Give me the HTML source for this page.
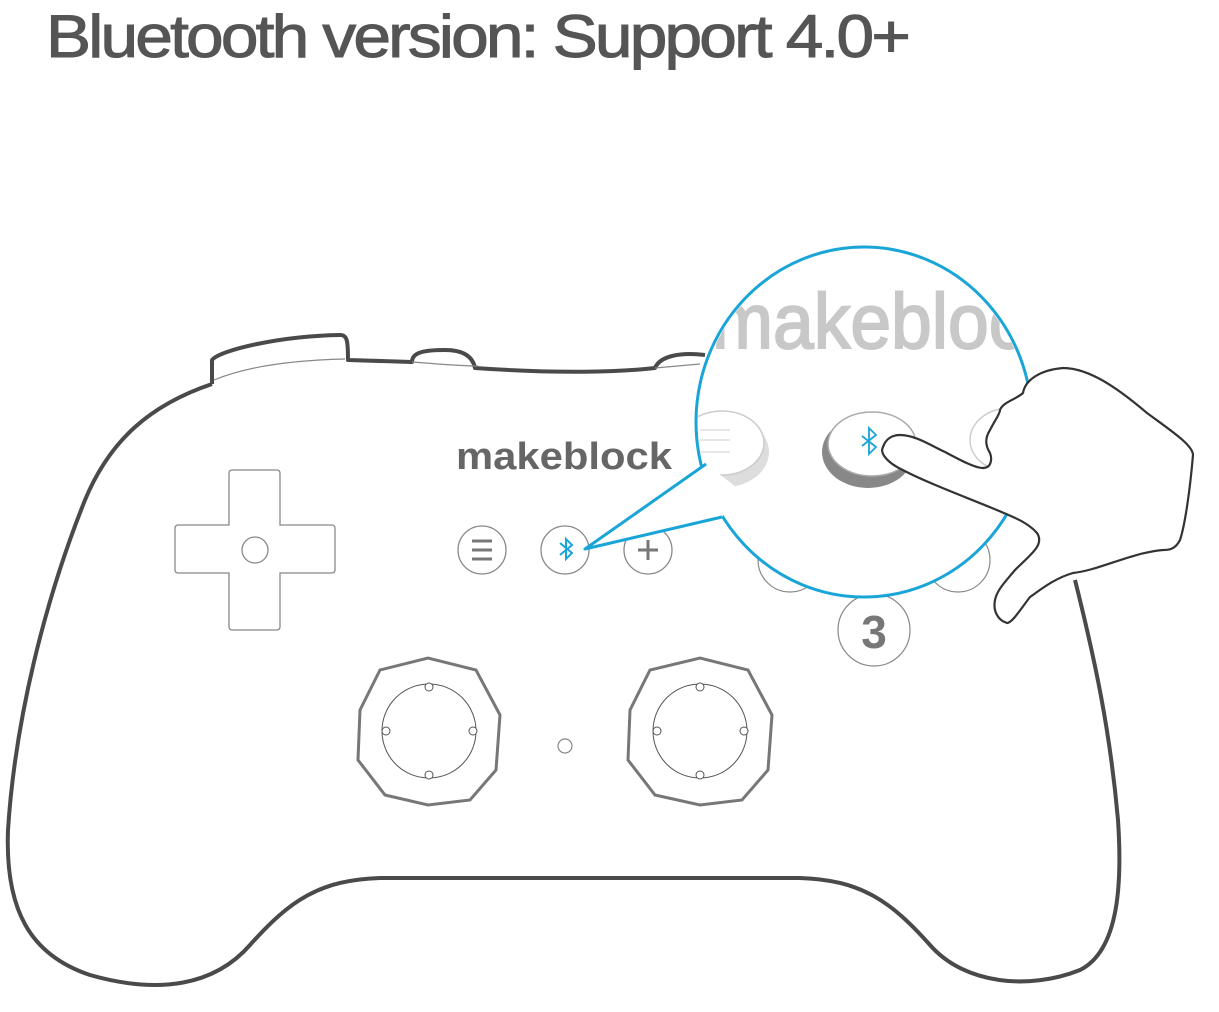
<!DOCTYPE html>
<html><head><meta charset="utf-8"><style>
html,body{margin:0;padding:0;background:#fff;width:1219px;height:1012px;overflow:hidden}
</style></head><body>
<svg width="1219" height="1012" viewBox="0 0 1219 1012" xmlns="http://www.w3.org/2000/svg">
<text x="46" y="57" font-family="Liberation Sans, sans-serif" font-size="60" fill="#555" stroke="#555" stroke-width="1" letter-spacing="-2.5" textLength="862" lengthAdjust="spacingAndGlyphs">Bluetooth version: Support 4.0+</text>

<!-- controller body -->
<g fill="none" stroke="#4a4a4a" stroke-width="4" stroke-linejoin="round">
<path d="M212,384 C150,405 110,440 85,500 C45,600 15,720 8,830 C5,910 30,955 90,975 C160,995 215,985 250,945 C290,900 320,880 380,878 L800,878 C860,880 890,900 930,945 C965,985 1030,990 1080,970 C1120,950 1122,880 1118,820 C1110,730 1095,660 1075,580"/>
<path d="M212,384 L212,360 C220,350 280,336 340,335 C347,335 348,340 348,360 L412,362 C412,352 425,350 445,350 C465,350 473,358 475,368 C560,374 620,372 655,368 C660,356 680,352 705,355"/>
</g>
<path d="M214,380 C250,365 300,360 345,359 M412,362 C440,364 460,366 478,366 M655,368 L700,364" fill="none" stroke="#888" stroke-width="1.2"/>

<!-- dpad -->
<path d="M232,470 h45 a3,3 0 0 1 3,3 v52 h52 a3,3 0 0 1 3,3 v42 a3,3 0 0 1 -3,3 h-52 v54 a3,3 0 0 1 -3,3 h-45 a3,3 0 0 1 -3,-3 v-54 h-51 a3,3 0 0 1 -3,-3 v-42 a3,3 0 0 1 3,-3 h51 v-52 a3,3 0 0 1 3,-3z" fill="none" stroke="#888" stroke-width="1.3"/>
<circle cx="255" cy="550" r="13" fill="none" stroke="#888" stroke-width="1.3"/>

<text x="456" y="469" font-family="Liberation Sans, sans-serif" font-size="38" font-weight="bold" fill="#666" textLength="216" lengthAdjust="spacingAndGlyphs">makeblock</text>

<!-- small buttons -->
<g fill="none" stroke="#888" stroke-width="1.3">
<ellipse cx="482" cy="550" rx="24" ry="24"/>
<ellipse cx="565" cy="550" rx="24" ry="24"/>
<ellipse cx="648" cy="550" rx="24" ry="24"/>
</g>
<path d="M472,541 h20 M472,550 h20 M472,559 h20 M648,540 v20 M638,550 h20" stroke="#777" stroke-width="3"/>
<path d="M560,543 l12,10 l-6,6 v-20 l6,6 l-12,10" fill="none" stroke="#1aa5d8" stroke-width="2"/>

<!-- sticks -->
<g>
<path d="M360,710 L380,670 L428,658 L476,670 L500,715 L496,770 L470,800 L428,805 L385,795 L358,760Z" fill="#fff" stroke="#777" stroke-width="3"/>
<circle cx="429" cy="731" r="47" fill="none" stroke="#555" stroke-width="1"/>
<path d="M630,710 L650,670 L700,658 L748,670 L772,715 L768,770 L742,800 L700,805 L655,795 L628,760Z" fill="#fff" stroke="#777" stroke-width="3"/>
<circle cx="700" cy="731" r="47" fill="none" stroke="#555" stroke-width="1"/>
<g fill="#fff" stroke="#555" stroke-width="1">
<circle cx="429" cy="687" r="4"/><circle cx="429" cy="775" r="4"/><circle cx="386" cy="731" r="4"/><circle cx="473" cy="731" r="4"/>
<circle cx="700" cy="687" r="4"/><circle cx="700" cy="775" r="4"/><circle cx="657" cy="731" r="4"/><circle cx="744" cy="731" r="4"/>
</g>
<circle cx="565" cy="746" r="7" fill="none" stroke="#888" stroke-width="1.2"/>
</g>

<!-- buttons under bubble -->
<circle cx="790" cy="560" r="32" fill="none" stroke="#888" stroke-width="1.2"/>
<circle cx="958" cy="560" r="32" fill="none" stroke="#888" stroke-width="1.2"/>
<circle cx="874" cy="630" r="36" fill="#fff" stroke="#888" stroke-width="1.2"/>
<text x="874" y="648" text-anchor="middle" font-family="Liberation Sans, sans-serif" font-size="46" font-weight="bold" fill="#777">3</text>

<!-- callout bubble -->
<ellipse cx="864" cy="422" rx="168" ry="175" fill="#fff" stroke="#1aa5d8" stroke-width="3"/>
<clipPath id="c"><ellipse cx="864" cy="422" rx="166" ry="173"/></clipPath>
<g clip-path="url(#c)">
<text x="712" y="348" font-family="Liberation Sans, sans-serif" font-size="78" fill="#c8c8c8" stroke="#c8c8c8" stroke-width="2" textLength="350" lengthAdjust="spacingAndGlyphs">makeblock</text>
<ellipse cx="725" cy="452" rx="44" ry="35" fill="#ddd"/>
<ellipse cx="722" cy="443" rx="42" ry="32" fill="#fff" stroke="#ccc" stroke-width="1.5"/>
<path d="M700,430 h30 M700,440 h30 M700,452 h30" stroke="#ddd" stroke-width="1.5"/>
<ellipse cx="868" cy="452" rx="46" ry="36" fill="#888"/>
<ellipse cx="872" cy="444" rx="44" ry="32" fill="#fff" stroke="#aaa" stroke-width="1.5"/>
<path d="M862,436 l14,11 l-7,7 v-26 l7,7 l-14,11" fill="none" stroke="#1aa5d8" stroke-width="1.8"/>
<ellipse cx="1010" cy="440" rx="40" ry="32" fill="#fff" stroke="#ccc" stroke-width="1.5"/>
</g>
<polygon points="585,549 706,464 740,490 722,517" fill="#fff"/>
<path d="M706,464 L585,549 L722,517" fill="none" stroke="#1aa5d8" stroke-width="3" stroke-linejoin="round"/>

<!-- hand -->
<path d="M1023,393 C1025,380 1040,370 1063,368 C1090,368 1120,390 1147,413 C1170,430 1193,445 1193,455 C1190,490 1185,525 1180,540 C1175,550 1168,550 1163,550 C1130,553 1100,570 1073,573 C1055,578 1040,590 1030,597 C1020,610 1012,623 1007,623 C997,620 993,610 995,600 C997,590 1005,582 1015,570 C1030,555 1045,545 1037,533 C1030,525 1020,520 1013,517 C980,502 930,485 897,467 C885,460 880,452 883,447 C886,438 893,435 900,435 C915,435 930,445 945,452 C960,460 975,468 983,468 C992,468 992,458 990,453 C985,445 985,438 990,430 C995,420 1000,414 1000,410 C1003,402 1015,400 1023,393 Z" fill="#fff" stroke="#333" stroke-width="2.2" stroke-linejoin="round"/>
</svg>
</body></html>
